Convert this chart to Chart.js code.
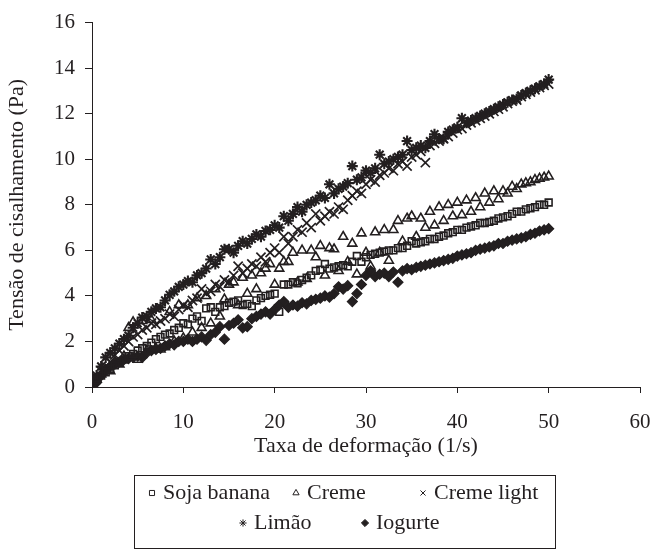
<!DOCTYPE html>
<html>
<head>
<meta charset="utf-8">
<script src="https://cdn.jsdelivr.net/npm/chart.js@4/dist/chart.umd.min.js"></script>
<style>
  html, body { margin: 0; padding: 0; background: #ffffff; }
</style>
</head>
<body>
<canvas id="FlowChart" width="656" height="556"></canvas>
<script>
// shear rate (1/s) shared by all samples
const shearRate = [
    0, 0.5, 1, 1.5, 2, 2.5, 3, 3.5, 4, 4.5, 5, 5.5, 6, 6.5, 7, 7.5, 8, 8.5, 9, 9.5,
    10, 10.5, 11, 11.5, 12, 12.5, 13, 13.5, 14, 14.5, 15, 15.5, 16, 16.5, 17, 17.5, 18, 18.5, 19, 19.5,
    20, 20.5, 21, 21.5, 22, 22.5, 23, 23.5, 24, 24.5, 25, 25.5, 26, 26.5, 27, 27.5, 28, 28.5, 29, 29.5,
    30, 30.5, 31, 31.5, 32, 32.5, 33, 33.5, 34, 34.5, 35, 35.5, 36, 36.5, 37, 37.5, 38, 38.5, 39, 39.5,
    40, 40.5, 41, 41.5, 42, 42.5, 43, 43.5, 44, 44.5, 45, 45.5, 46, 46.5, 47, 47.5, 48, 48.5, 49, 49.5,
    50
];

// shear stress (Pa) per sample
const sojaBanana = [
    0.1, 0.3, 0.5, 0.65, 0.8, 0.95, 1.1, 1.2, 1.35, 1.45, 1.6, 1.7, 1.8, 1.95, 2.1, 2.2, 2.3, 2.35, 2.5, 2.6,
    2.8, 2.75, 3.0, 3.1, 2.9, 3.45, 3.5, 3.3, 3.5, 3.55, 3.7, 3.75, 3.8, 3.6, 3.65, 3.55, 3.8, 3.9, 4.0, 4.05,
    4.1, 3.3, 4.5, 4.5, 4.6, 4.55, 4.7, 4.8, 4.9, 5.1, 5.15, 5.4, 5.2, 5.25, 5.3, 5.35, 5.3, 5.5, 5.75, 5.5,
    5.7, 5.8, 5.85, 5.9, 5.95, 6.0, 6.0, 6.1, 6.1, 6.2, 6.4, 6.3, 6.35, 6.4, 6.5, 6.5, 6.6, 6.65, 6.75, 6.8,
    6.9, 6.9, 7.0, 7.05, 7.1, 7.2, 7.2, 7.25, 7.3, 7.4, 7.45, 7.5, 7.6, 7.7, 7.7, 7.8, 7.85, 7.9, 8.0, 8.0,
    8.1
];
const creme = [
    0.2, 0.35, 0.55, 0.75, 0.7, 1.1, 1.0, 1.35, 2.6, 2.85, 1.2, 2.9, 1.6, 2.95, 1.7, 1.65, 1.75, 3.3, 2.0, 3.6,
    2.15, 3.6, 2.4, 3.9, 2.6, 4.0, 2.8, 4.3, 3.1, 3.85, 4.5, 4.6, 3.6, 4.8, 4.1, 4.9, 4.3, 5.0, 5.2, 5.4,
    4.5, 5.2, 5.5, 5.5, 5.9, 4.6, 6.0, 4.75, 6.0, 5.7, 6.2, 4.9, 6.1, 6.05, 5.1, 6.6, 5.5, 6.3, 4.95, 6.75,
    5.9, 5.3, 6.8, 5.9, 6.9, 5.55, 6.9, 7.3, 6.4, 7.4, 7.5, 6.6, 7.4, 7.0, 7.7, 7.1, 7.9, 7.3, 8.0, 7.5,
    8.1, 7.55, 8.2, 7.7, 8.3, 7.9, 8.5, 8.1, 8.6, 8.25, 8.6, 8.5, 8.8, 8.7, 8.9, 8.95, 9.0, 9.1, 9.15, 9.2,
    9.25
];
const cremeLight = [
    0.1, 0.4, 0.7, 0.9, 1.1, 1.4, 1.6, 1.8, 2.0, 2.2, 2.3, 2.5, 2.6, 2.8, 2.75, 2.9, 3.0, 3.2, 3.1, 3.4,
    3.6, 3.5, 3.8, 3.9, 4.3, 4.1, 4.2, 4.5, 4.4, 4.7, 4.6, 4.9, 5.3, 5.0, 5.2, 5.4, 5.3, 5.7, 5.5, 5.9,
    6.1, 5.9, 6.6, 6.3, 6.6, 6.9, 6.8, 7.2, 7.0, 7.6, 7.3, 7.5, 7.7, 7.6, 7.9, 7.8, 8.2, 8.4, 8.6, 8.5,
    8.9, 9.1, 9.0, 9.3, 9.4, 9.6, 9.5, 9.8, 9.9, 9.7, 10.1, 10.2, 10.35, 9.85, 10.6, 10.7, 10.8, 10.9, 11.0, 11.15,
    11.3, 11.35, 11.5, 11.6, 11.7, 11.8, 11.9, 12.0, 12.1, 12.2, 12.3, 12.45, 12.55, 12.6, 12.75, 12.85, 12.95, 13.05, 13.15, 13.25,
    13.3
];
const limao = [
    0.2, 0.5, 0.9, 1.3, 1.5, 1.7, 1.9, 2.1, 2.25, 2.6, 2.8, 3.05, 3.1, 3.3, 3.45, 3.5, 3.8, 4.05, 4.2, 4.4,
    4.5, 4.65, 4.6, 4.9, 5.0, 5.2, 5.6, 5.4, 5.7, 6.05, 6.05, 5.9, 6.2, 6.4, 6.3, 6.5, 6.7, 6.6, 6.85, 6.9,
    7.1, 7.0, 7.5, 7.3, 7.6, 7.9, 7.7, 8.0, 8.1, 8.2, 8.4, 8.3, 8.9, 8.5, 8.7, 8.8, 8.95, 9.7, 9.1, 9.2,
    9.5, 9.4, 9.6, 10.2, 9.8, 9.9, 10.0, 10.1, 10.2, 10.8, 10.4, 10.5, 10.6, 10.5, 10.8, 11.1, 10.9, 10.9, 11.2, 11.3,
    11.4, 11.8, 11.6, 11.7, 11.8, 11.9, 12.0, 12.1, 12.2, 12.3, 12.4, 12.5, 12.6, 12.65, 12.8, 12.9, 13.0, 13.1, 13.2, 13.3,
    13.5
];
const iogurte = [
    0.0, 0.2, 0.5, 0.7, 0.9, 1.0, 1.1, 1.2, 1.25, 1.3, 1.35, 1.3, 1.5, 1.6, 1.65, 1.7, 1.8, 1.9, 1.85, 2.0,
    2.0, 2.1, 2.0, 2.1, 2.2, 2.05, 2.3, 2.4, 2.65, 2.1, 2.7, 2.8, 2.95, 2.6, 2.65, 3.0, 3.1, 3.2, 3.3, 3.2,
    3.4, 3.6, 3.75, 3.5, 3.6, 3.55, 3.7, 3.65, 3.8, 3.85, 3.9, 4.0, 3.95, 4.1, 4.4, 4.3, 4.45, 3.75, 4.1, 4.5,
    4.9, 5.1, 4.85, 4.95, 5.0, 4.85, 5.05, 4.6, 5.1, 5.2, 5.15, 5.25, 5.3, 5.35, 5.4, 5.45, 5.5, 5.55, 5.6, 5.65,
    5.75, 5.8, 5.85, 5.9, 6.0, 6.05, 6.1, 6.15, 6.2, 6.3, 6.3, 6.4, 6.45, 6.5, 6.55, 6.6, 6.7, 6.75, 6.85, 6.9,
    6.95
];

const sampleNames = ["Soja banana", "Creme", "Creme light", "Limão", "Iogurte"];

const ink = "#231f20";
const serif = "'Liberation Serif', 'Times New Roman', serif";

function series(label, values, style, radius, filled, stroke) {
    return {
        label: label,
        data: shearRate.map((x, i) => ({ x: x, y: values[i] })),
        pointStyle: style,
        pointRadius: radius,
        pointHoverRadius: radius,
        pointBorderColor: ink,
        pointBackgroundColor: filled ? ink : "rgba(0,0,0,0)",
        pointBorderWidth: stroke,
        showLine: false
    };
}

// boxed legend in two rows, like the original figure
const legendSlots = [[152, 0], [296, 0], [423, 0], [243, 1], [365, 1]]; // marker x, row
const boxedLegend = {
    id: "boxedLegend",
    afterDraw(chart) {
        const ctx = chart.ctx;
        ctx.save();
        ctx.strokeStyle = ink;
        ctx.lineWidth = 1;
        ctx.strokeRect(134.5, 475.5, 421, 73);
        ctx.font = "22px " + serif;
        ctx.textBaseline = "alphabetic";
        ctx.textAlign = "left";
        chart.data.datasets.forEach((ds, i) => {
            const [mx, row] = legendSlots[i];
            const base = 499 + row * 30;
            ctx.strokeStyle = ink;
            ctx.fillStyle = ds.pointBackgroundColor;
            Chart.helpers.drawPoint(ctx, { pointStyle: ds.pointStyle, radius: 3.6, borderWidth: 1.3, rotation: 0 }, mx, base - 6);
            ctx.fillStyle = ink;
            ctx.fillText(ds.label, mx + 11, base);
        });
        ctx.restore();
    }
};

const flow_chart_context = document.getElementById("FlowChart").getContext("2d");
new Chart(flow_chart_context, {
    type: "scatter",
    data: {
        datasets: [
            series(sampleNames[0], sojaBanana, "rect", 4.8, false, 1.6),
            series(sampleNames[1], creme, "triangle", 5.2, false, 1.6),
            series(sampleNames[2], cremeLight, "crossRot", 6.5, false, 1.7),
            series(sampleNames[3], limao, "star", 5.5, false, 2.1),
            series(sampleNames[4], iogurte, "rectRot", 5, true, 1.2)
        ]
    },
    options: {
        responsive: false,
        animation: false,
        events: [],
        layout: { padding: { top: 17, right: 16, bottom: 95, left: 0 } },
        plugins: {
            legend: { display: false },
            tooltip: { enabled: false }
        },
        scales: {
            x: {
                type: "linear",
                min: 0,
                max: 60,
                ticks: { stepSize: 10, color: ink, font: { family: serif, size: 21 }, padding: 17, maxRotation: 0 },
                grid: { drawOnChartArea: false, drawTicks: true, tickLength: 6, color: ink, lineWidth: 1 },
                border: { color: ink, width: 1 },
                title: {
                    display: true,
                    text: "Taxa de deformação (1/s)",
                    color: ink,
                    font: { family: serif, size: 22 },
                    padding: { top: 0, bottom: 2 }
                },
                afterFit(scale) {
                    scale.height = 74;
                    scale.paddingLeft = 0;
                    scale.paddingRight = 12;
                }
            },
            y: {
                type: "linear",
                min: 0,
                max: 16,
                ticks: { stepSize: 2, color: ink, font: { family: serif, size: 21 }, padding: 10 },
                grid: { drawOnChartArea: false, drawTicks: true, tickLength: 7, color: ink, lineWidth: 1 },
                border: { color: ink, width: 1 },
                title: {
                    display: true,
                    text: "Tensão de cisalhamento (Pa)",
                    color: ink,
                    font: { family: serif, size: 22 },
                    padding: { top: 4, bottom: 0 }
                },
                afterFit(scale) { scale.width = 92; }
            }
        }
    },
    plugins: [boxedLegend]
});
</script>
</body>
</html>
